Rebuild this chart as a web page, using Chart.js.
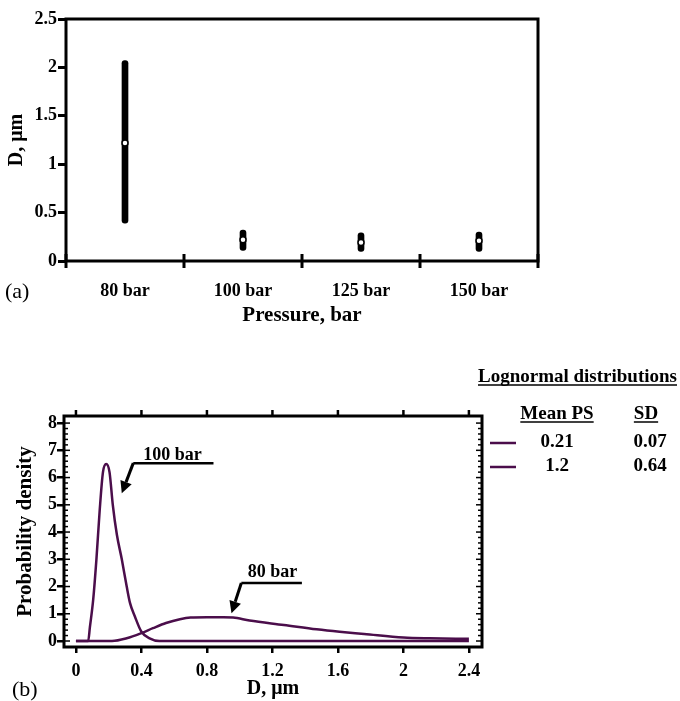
<!DOCTYPE html>
<html>
<head>
<meta charset="utf-8">
<script src="https://cdn.jsdelivr.net/npm/chart.js@4.4.1/dist/chart.umd.min.js"></script>
<style>
    html, body { margin: 0; padding: 0; background: #fff; }
    #wrap { position: relative; width: 680px; height: 701px; }
    #boxA { position: absolute; left: 0; top: 0; width: 680px; height: 340px; }
    #boxB { position: absolute; left: 0; top: 360px; width: 680px; height: 341px; }
</style>
</head>
<body>
<div id="wrap">
    <div id="boxA"><canvas id="chartA"></canvas></div>
    <div id="boxB"><canvas id="chartB"></canvas></div>
</div>
<script>
/* ── Panel (a): size range per pressure ─────────────── */
const pressures = ['80 bar', '100 bar', '125 bar', '150 bar'];
const dLow  = [0.39, 0.11, 0.10, 0.10];
const dHigh = [2.07, 0.32, 0.29, 0.30];
const dMean = [1.22, 0.22, 0.19, 0.21];
const aTicksY = [0, 0.5, 1, 1.5, 2, 2.5];

/* ── Panel (b): lognormal curves ────────────────────── */
const x100 = [0, 0.075, 0.085, 0.105, 0.125, 0.145, 0.165, 0.185, 0.205, 0.225, 0.25, 0.28, 0.31, 0.33, 0.36, 0.40, 0.45, 0.51, 2.4];
const y100 = [0, 0, 0.5, 1.5, 3.0, 4.8, 6.2, 6.5, 6.2, 5.0, 3.9, 3.0, 2.0, 1.4, 0.9, 0.34, 0.1, 0, 0];
const x80 = [0, 0.22, 0.31, 0.40, 0.47, 0.55, 0.635, 0.70, 0.80, 0.90, 0.96, 1.06, 1.27, 1.47, 1.61, 1.76, 2.0, 2.16, 2.4];
const y80 = [0, 0, 0.1, 0.29, 0.47, 0.66, 0.8, 0.86, 0.87, 0.87, 0.86, 0.75, 0.59, 0.43, 0.34, 0.26, 0.13, 0.1, 0.08];
const bTicksX = [0, 0.4, 0.8, 1.2, 1.6, 2, 2.4];
const bTicksY = [0, 1, 2, 3, 4, 5, 6, 7, 8];
const legendTitle = 'Lognormal distributions';
const legendMean = ['0.21', '1.2'];
const legendSD = ['0.07', '0.64'];
// arrow notes: label, label pos, shelf line start/end, arrow tip (data units)
const notes = [
    { text: '100 bar', tx: 0.59, ty: 6.83, x1: 0.35, x2: 0.84, y: 6.53, tipX: 0.28, tipY: 5.42 },
    { text: '80 bar',  tx: 1.20, ty: 2.53, x1: 1.01, x2: 1.38, y: 2.13, tipX: 0.95, tipY: 1.02 }
];

const SERIF = "'Liberation Serif', 'Times New Roman', serif";
const PURPLE = '#4b0e4b';
const boldFont = (size) => ({ family: SERIF, size: size, weight: 'bold' });
const fmtNum = (v) => String(Math.round(v * 100) / 100);

// ── shared frame plugin ───────────────────────────────
const framePlugin = {
    id: 'frame',
    afterDraw(chart) {
        const { ctx, chartArea: a } = chart;
        ctx.save();
        ctx.strokeStyle = '#000';
        ctx.lineWidth = 3;
        ctx.strokeRect(a.left, a.top, a.right - a.left, a.bottom - a.top);
        ctx.restore();
    }
};

// ── Panel (a) extras: crossing ticks + "(a)" ───────────
const panelAExtras = {
    id: 'panelAExtras',
    afterDraw(chart) {
        const { ctx, chartArea: a } = chart;
        const xs = chart.scales.x;
        ctx.save();
        ctx.strokeStyle = '#000';
        ctx.lineWidth = 3;
        for (let i = 0; i <= pressures.length; i++) {
            const px = xs.getPixelForValue(i - 0.5);
            ctx.beginPath();
            ctx.moveTo(px, a.bottom - 7);
            ctx.lineTo(px, a.bottom + 7);
            ctx.stroke();
        }
        ctx.fillStyle = '#000';
        ctx.font = '22px ' + SERIF;
        ctx.textBaseline = 'middle';
        ctx.fillText('(a)', 5, 292);
        ctx.restore();
    }
};

new Chart(document.getElementById('chartA'), {
    type: 'bar',
    data: {
        labels: pressures,
        datasets: [
            {
                type: 'line',
                data: dMean,
                showLine: false,
                pointRadius: 3,
                pointBackgroundColor: '#fff',
                pointBorderColor: '#000',
                pointBorderWidth: 1.5,
                order: 0
            },
            {
                data: pressures.map((_, i) => [dLow[i], dHigh[i]]),
                backgroundColor: '#000',
                barThickness: 6,
                borderRadius: 3,
                borderSkipped: false,
                order: 1
            }
        ]
    },
    options: {
        responsive: true, maintainAspectRatio: false, animation: false,
        devicePixelRatio: 1,
        layout: { padding: { top: 19, right: 142, left: 0, bottom: 0 } },
        plugins: { legend: { display: false }, tooltip: { enabled: false } },
        scales: {
            x: {
                type: 'category',
                offset: true,
                grid: { display: false },
                border: { display: false },
                ticks: { color: '#000', font: boldFont(18), padding: 12 },
                title: { display: true, text: 'Pressure, bar', color: '#000', font: boldFont(21), padding: { bottom: 12 } },
                afterFit: (s) => { s.height = 79; }
            },
            y: {
                min: 0, max: 2.5,
                afterBuildTicks: (s) => { s.ticks = aTicksY.map(v => ({ value: v })); },
                grid: { drawOnChartArea: false, tickLength: 8, lineWidth: 3, color: '#000' },
                border: { display: false },
                ticks: { color: '#000', font: boldFont(18), padding: 1, callback: fmtNum },
                title: { display: true, text: 'D, μm', color: '#000', font: boldFont(20), padding: { top: 5 } },
                afterFit: (s) => { s.width = 66; }
            }
        }
    },
    plugins: [framePlugin, panelAExtras]
});

// ── Panel (b) extras: minor ticks, notes, legend ───────
const panelBExtras = {
    id: 'panelBExtras',
    afterDraw(chart) {
        const { ctx, chartArea: a } = chart;
        const xs = chart.scales.x, ys = chart.scales.y;
        ctx.save();
        ctx.strokeStyle = '#000';
        ctx.fillStyle = '#000';

        // top ticks (outside)
        ctx.lineWidth = 2.5;
        bTicksX.forEach(v => {
            const px = xs.getPixelForValue(v);
            ctx.beginPath(); ctx.moveTo(px, a.top); ctx.lineTo(px, a.top - 6); ctx.stroke();
        });
        // minor ticks inside, left and right
        ctx.lineWidth = 1.5;
        for (let i = 0; i < bTicksY.length; i++) {
            for (let k = 0; k < 5; k++) {
                const v = bTicksY[i] + k * 0.2;
                if (v > bTicksY[bTicksY.length - 1]) break;
                const py = ys.getPixelForValue(v);
                const len = k === 0 ? 6 : 4;
                ctx.beginPath(); ctx.moveTo(a.left, py); ctx.lineTo(a.left + len, py); ctx.stroke();
                ctx.beginPath(); ctx.moveTo(a.right, py); ctx.lineTo(a.right - len, py); ctx.stroke();
            }
        }

        // arrow notes
        ctx.font = 'bold 18px ' + SERIF;
        ctx.textAlign = 'center';
        ctx.textBaseline = 'middle';
        notes.forEach(n => {
            ctx.fillText(n.text, xs.getPixelForValue(n.tx), ys.getPixelForValue(n.ty));
            const sx = xs.getPixelForValue(n.x1), sy = ys.getPixelForValue(n.y);
            const ex = xs.getPixelForValue(n.x2);
            const tx = xs.getPixelForValue(n.tipX), ty = ys.getPixelForValue(n.tipY);
            ctx.lineWidth = 2.5;
            ctx.beginPath(); ctx.moveTo(ex, sy); ctx.lineTo(sx, sy); ctx.stroke();
            const ang = Math.atan2(ty - sy, tx - sx);
            const head = 12, half = 6;
            const bx = tx - head * Math.cos(ang), by = ty - head * Math.sin(ang);
            ctx.lineWidth = 3;
            ctx.beginPath(); ctx.moveTo(sx, sy); ctx.lineTo(bx, by); ctx.stroke();
            ctx.beginPath();
            ctx.moveTo(tx, ty);
            ctx.lineTo(bx + half * Math.sin(ang), by - half * Math.cos(ang));
            ctx.lineTo(bx - half * Math.sin(ang), by + half * Math.cos(ang));
            ctx.closePath(); ctx.fill();
        });

        // legend block
        const underline = (text, x, y, align) => {
            ctx.textAlign = align;
            ctx.fillText(text, x, y);
            const w = ctx.measureText(text).width;
            const x0 = align === 'center' ? x - w / 2 : x;
            ctx.lineWidth = 1.5;
            ctx.beginPath(); ctx.moveTo(x0, y + 3); ctx.lineTo(x0 + w, y + 3); ctx.stroke();
        };
        ctx.font = 'bold 19px ' + SERIF;
        ctx.textBaseline = 'alphabetic';
        underline(legendTitle, 478, 22, 'left');
        underline('Mean PS', 557, 59, 'center');
        underline('SD', 646, 59, 'center');
        const rowY = [83, 107];
        legendMean.forEach((m, i) => {
            ctx.strokeStyle = PURPLE;
            ctx.lineWidth = 2.5;
            ctx.beginPath(); ctx.moveTo(490, rowY[i]); ctx.lineTo(516, rowY[i]); ctx.stroke();
            ctx.textAlign = 'center';
            ctx.textBaseline = 'middle';
            ctx.fillText(m, 557, rowY[i] - 1);
            ctx.fillText(legendSD[i], 650, rowY[i] - 1);
        });

        ctx.font = '22px ' + SERIF;
        ctx.textAlign = 'left';
        ctx.textBaseline = 'middle';
        ctx.fillText('(b)', 12, 330);
        ctx.restore();
    }
};

new Chart(document.getElementById('chartB'), {
    type: 'line',
    data: {
        datasets: [
            {
                label: '100 bar',
                data: x100.map((x, i) => ({ x: x, y: y100[i] })),
                borderColor: PURPLE, borderWidth: 2.5,
                pointRadius: 0, cubicInterpolationMode: 'monotone', fill: false
            },
            {
                label: '80 bar',
                data: x80.map((x, i) => ({ x: x, y: y80[i] })),
                borderColor: PURPLE, borderWidth: 2.5,
                pointRadius: 0, cubicInterpolationMode: 'monotone', fill: false
            }
        ]
    },
    options: {
        responsive: true, maintainAspectRatio: false, animation: false,
        devicePixelRatio: 1,
        layout: { padding: { top: 56, right: 198, left: 0, bottom: 0 } },
        plugins: { legend: { display: false }, tooltip: { enabled: false } },
        scales: {
            x: {
                type: 'linear',
                min: -0.073, max: 2.48,
                afterBuildTicks: (s) => { s.ticks = bTicksX.map(v => ({ value: v })); },
                grid: { drawOnChartArea: false, tickLength: 6, lineWidth: 2.5, color: '#000' },
                border: { display: false },
                ticks: { color: '#000', font: boldFont(18), padding: 8, callback: fmtNum },
                title: { display: true, text: 'D, μm', color: '#000', font: boldFont(20), padding: { bottom: 0 } },
                afterFit: (s) => { s.height = 54; }
            },
            y: {
                min: -0.22, max: 8.26,
                afterBuildTicks: (s) => { s.ticks = bTicksY.map(v => ({ value: v })); },
                grid: { drawOnChartArea: false, tickLength: 7, lineWidth: 2.5, color: '#000' },
                border: { display: false },
                ticks: { color: '#000', font: boldFont(18), padding: 0, callback: fmtNum },
                title: { display: true, text: 'Probability density', color: '#000', font: boldFont(21), padding: { top: 13 } },
                afterFit: (s) => { s.width = 64; }
            }
        }
    },
    plugins: [framePlugin, panelBExtras]
});
</script>
</body>
</html>
